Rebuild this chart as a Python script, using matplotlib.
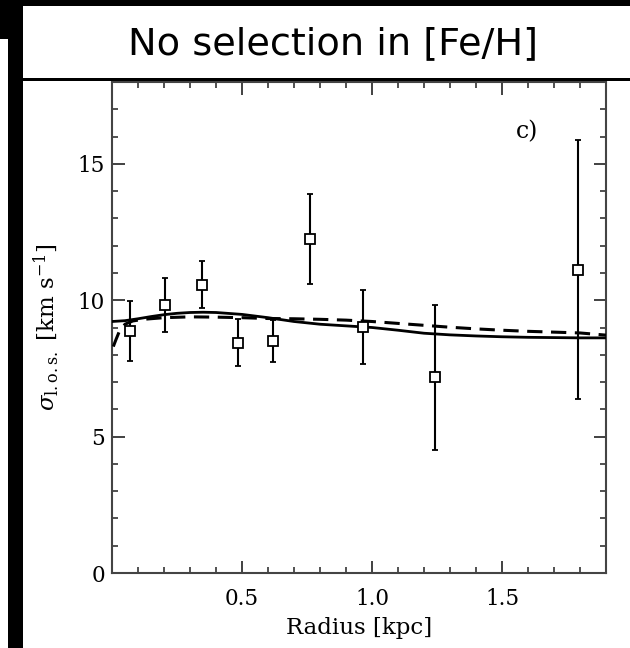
import matplotlib as mpl
mpl.use('Agg')
import matplotlib.pyplot as plt
from matplotlib.patches import Rectangle
from matplotlib.ticker import MultipleLocator

# binned line-of-sight dispersion
radius = [0.071, 0.205, 0.345, 0.483, 0.621, 0.760, 0.965, 1.241, 1.792]
sigma = [8.88, 9.82, 10.57, 8.45, 8.51, 12.26, 9.02, 7.17, 11.12]
sigma_err = [1.10, 1.00, 0.85, 0.85, 0.78, 1.65, 1.35, 2.65, 4.75]

# model curves
solid_r = [0.0, 0.05, 0.1, 0.15, 0.2, 0.25, 0.3, 0.35, 0.4, 0.5, 0.6, 0.7,
           0.8, 0.9, 1.0, 1.1, 1.2, 1.3, 1.4, 1.5, 1.6, 1.7, 1.8, 1.9]
solid_s = [9.22, 9.25, 9.32, 9.40, 9.47, 9.52, 9.55, 9.56, 9.55, 9.48, 9.36,
           9.22, 9.12, 9.06, 9.00, 8.90, 8.79, 8.73, 8.69, 8.66, 8.64, 8.63,
           8.62, 8.62]
dash_r = [0.005, 0.015, 0.03, 0.05, 0.08, 0.12, 0.2, 0.3, 0.4, 0.5, 0.6, 0.7,
          0.8, 0.9, 1.0, 1.1, 1.2, 1.3, 1.4, 1.5, 1.6, 1.7, 1.8, 1.9]
dash_s = [8.30, 8.55, 8.90, 9.12, 9.24, 9.30, 9.36, 9.39, 9.38, 9.36, 9.33,
          9.32, 9.30, 9.27, 9.22, 9.15, 9.08, 9.01, 8.95, 8.90, 8.86, 8.83,
          8.80, 8.72]

title = "No selection in [Fe/H]"

plt.rcParams['font.family'] = 'DejaVu Serif'
plt.rcParams['mathtext.fontset'] = 'dejavuserif'

fig = plt.figure(figsize=(6.3, 6.48), dpi=100)
W, H = 630.0, 648.0

# black frame pieces and title strip
def px_rect(x0, y0, x1, y1, color):
    fig.patches.append(Rectangle((x0 / W, 1 - y1 / H), (x1 - x0) / W,
                                 (y1 - y0) / H, transform=fig.transFigure,
                                 facecolor=color, edgecolor='none', zorder=0))

px_rect(0, 0, 630, 6, 'black')
px_rect(0, 0, 23, 39, 'black')
px_rect(8, 0, 23, 648, 'black')
px_rect(23, 78, 630, 81, 'black')

fig.text(333 / W, 1 - 44 / H, title, ha='center', va='center',
         fontsize=27.5, family='DejaVu Sans', color='black')

ax = fig.add_axes([112 / W, 1 - 573 / H, (606 - 112) / W, (573 - 82) / H])
ax.set_xlim(0, 1.9)
ax.set_ylim(0, 18)

ax.plot(solid_r, solid_s, color='black', lw=2.0, zorder=3)
ax.plot(dash_r, dash_s, color='black', lw=2.2, dashes=(5, 2.8), zorder=3)
ax.errorbar(radius, sigma, yerr=sigma_err, fmt='s', mfc='white', mec='black',
            mew=1.3, ms=7, ecolor='black', elinewidth=1.5, capsize=2,
            capthick=1.3, zorder=4)

ax.xaxis.set_minor_locator(MultipleLocator(0.1))
ax.yaxis.set_minor_locator(MultipleLocator(1))
ax.set_xticks([0.5, 1.0, 1.5])
ax.set_xticklabels(['0.5', '1.0', '1.5'])
ax.set_yticks([0, 5, 10, 15])
ax.tick_params(which='both', direction='in', top=True, right=True,
               colors='#333333', labelcolor='black', labelsize=15.5)
ax.tick_params(which='major', length=9, width=1.3)
ax.tick_params(axis='x', which='major', pad=11)
ax.tick_params(axis='y', which='major', pad=5)
ax.tick_params(which='minor', length=4.5, width=1.2)
for s in ax.spines.values():
    s.set_color('#444444')
    s.set_linewidth(1.5)

ax.text(0.84, 0.898, 'c)', transform=ax.transAxes, fontsize=17,
        ha='center', va='center')
ax.set_xlabel('Radius [kpc]', fontsize=16.5, labelpad=5)
ax.set_ylabel(r'$\sigma_{\rm l.o.s.}$ [km s$^{-1}$]', fontsize=16.5,
              labelpad=12)

fig.savefig('out.png', dpi=100)
